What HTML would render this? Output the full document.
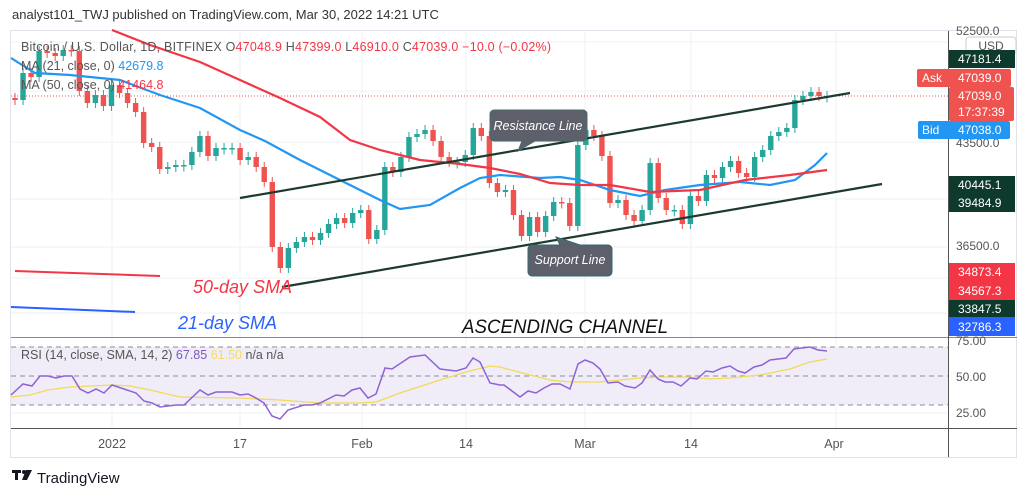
<!DOCTYPE html>
<html><head><meta charset="utf-8"><style>
html,body{margin:0;padding:0;background:#fff;width:1024px;height:496px;overflow:hidden;font-family:"Liberation Sans",sans-serif}
#hdr{position:absolute;left:12px;top:7px;font-size:13px;color:#333}
svg{position:absolute;left:0;top:0}
</style></head><body>
<div id="hdr">analyst101_TWJ published on TradingView.com, Mar 30, 2022 14:21 UTC</div>
<svg id="s" width="1024" height="496" xmlns="http://www.w3.org/2000/svg" font-family="Liberation Sans, sans-serif">
<rect x="10.5" y="30.5" width="1006" height="427" fill="#fff" stroke="#e0e3eb"/>
<g stroke="#eef1f6" stroke-width="1">
<line x1="11" x2="948" y1="42" y2="42"/><line x1="11" x2="948" y1="91" y2="91"/><line x1="11" x2="948" y1="142" y2="142"/><line x1="11" x2="948" y1="199" y2="199"/><line x1="11" x2="948" y1="247" y2="247"/><line x1="11" x2="948" y1="278" y2="278"/><line x1="11" x2="948" y1="313" y2="313"/>
<line x1="112" x2="112" y1="31" y2="428"/><line x1="240" x2="240" y1="31" y2="428"/><line x1="362" x2="362" y1="31" y2="428"/><line x1="466" x2="466" y1="31" y2="428"/><line x1="585" x2="585" y1="31" y2="428"/><line x1="691" x2="691" y1="31" y2="428"/><line x1="836" x2="836" y1="31" y2="428"/>
</g>
<rect x="11" y="347" width="937" height="58" fill="#f0edf9"/>
<g stroke="#8c8c96" stroke-dasharray="5,4" stroke-width="1"><line x1="11" x2="948" y1="347" y2="347"/><line x1="11" x2="948" y1="376" y2="376"/><line x1="11" x2="948" y1="405" y2="405"/></g>
<line x1="11" x2="948" y1="413" y2="413" stroke="#eef1f6"/>
<line x1="11" x2="1017" y1="337.5" y2="337.5" stroke="#888"/>
<line x1="11" x2="1017" y1="428.5" y2="428.5" stroke="#555"/>
<line x1="948.5" x2="948.5" y1="31" y2="457" stroke="#555"/>
<line x1="11" x2="948" y1="96" y2="96" stroke="#ef5350" stroke-dasharray="1,2"/>
<g id="candles"></g>
<polyline fill="none" stroke="#2196f3" stroke-width="2.2" points="11,58 35,73 70,75 120,80 160,95 200,108 240,130 265,141 300,160 320,170 350,185 380,200 400,209 430,205 460,188 480,178 500,175 540,178 560,177 580,180 610,190 640,196 665,190 700,185 740,182 770,185 795,180 815,165 827,153"/>
<polyline fill="none" stroke="#f23645" stroke-width="2.2" points="112,30 150,45 200,62 240,80 280,98 320,117 350,140 380,150 420,160 460,164 490,168 520,174 550,183 580,185 610,185 650,192 700,190 745,180 790,175 827,170"/>
<g stroke="#1e3a2f" stroke-width="2.2"><line x1="240" y1="198" x2="850" y2="93"/><line x1="282" y1="287" x2="882" y2="184"/></g>
<line x1="15" y1="271" x2="160" y2="276" stroke="#f23645" stroke-width="2"/>
<line x1="11" y1="307" x2="135" y2="312" stroke="#2962ff" stroke-width="2"/>
<text x="193" y="293" font-size="18" font-style="italic" fill="#f23645">50-day SMA</text>
<text x="178" y="329" font-size="18" font-style="italic" fill="#2962ff">21-day SMA</text>
<text x="462" y="333" font-size="19" font-style="italic" fill="#111" textLength="206" lengthAdjust="spacingAndGlyphs">ASCENDING CHANNEL</text>
<path d="M494,110 h89 a4,4 0 0 1 4,4 v23 a4,4 0 0 1 -4,4 h-48 l-17,10 l4,-10 h-28 a4,4 0 0 1 -4,-4 v-23 a4,4 0 0 1 4,-4z" fill="#5d606b" stroke="#4a6b6b"/>
<text x="538" y="130" font-size="12.5" font-style="italic" fill="#fff" text-anchor="middle">Resistance Line</text>
<path d="M532,245 h28 l-4,-8 l24,8 h28 a4,4 0 0 1 4,4 v23 a4,4 0 0 1 -4,4 h-76 a4,4 0 0 1 -4,-4 v-23 a4,4 0 0 1 4,-4z" fill="#5d606b" stroke="#2d6b6b"/>
<text x="570" y="264" font-size="12.5" font-style="italic" fill="#fff" text-anchor="middle">Support Line</text>
<g font-size="12.5">
<text x="21" y="51" fill="#555" textLength="530" lengthAdjust="spacing">Bitcoin / U.S. Dollar, 1D, BITFINEX  O<tspan fill="#f23645">47048.9</tspan>  H<tspan fill="#f23645">47399.0</tspan>  L<tspan fill="#f23645">46910.0</tspan>  C<tspan fill="#f23645">47039.0</tspan>  <tspan fill="#f23645">−10.0 (−0.02%)</tspan></text>
<text x="21" y="70" fill="#555">MA (21, close, 0)  <tspan fill="#2196f3">42679.8</tspan></text>
<text x="21" y="89" fill="#555">MA (50, close, 0)  <tspan fill="#f23645">41464.8</tspan></text>
<text x="21" y="359" fill="#555">RSI (14, close, SMA, 14, 2)  <tspan fill="#7e57c2">67.85</tspan>  <tspan fill="#f5dd60">61.50</tspan>  n/a  n/a</text>
</g>
<polyline fill="none" stroke="#f2d95a" stroke-width="1.3" points="11,397 30,395 48,390 70,387 112,385 130,386 150,390 180,397 240,398 280,400 320,403 360,403 376,402 400,393 440,380 466,372 490,366 500,367 530,375 550,380 570,382 600,382 640,378 660,377 690,377 710,379 730,378 760,375 790,369 810,362 827,359"/>
<polyline fill="none" stroke="#8e63d6" stroke-width="1.5" points="11,395 23,384 32,386 40,376 48,376 56,378 64,376 72,376 80,389 88,393 96,389 104,393 112,385 124,389 136,393 144,401 152,403 160,407 176,405 184,405 200,390 208,395 216,392 232,392 240,395 248,394 256,398 264,403 272,416 280,419 288,410 304,405 312,405 320,403 336,395 344,396 352,390 360,388 368,398 376,394 385,368 392,369 410,357 425,355 440,369 456,371 466,368 473,358 480,362 490,383 500,385 504,385 520,397 528,391 536,393 544,388 552,384 560,384 570,389 578,364 585,360 593,363 600,369 608,383 618,382 625,386 635,388 642,383 650,370 658,379 665,382 673,382 681,386 690,378 697,379 706,371 713,372 722,368 730,366 738,371 745,373 754,367 762,365 770,360 778,359 786,358 794,349 810,347 818,350 827,351"/>
<g font-size="12.5" fill="#555" text-anchor="middle"><text x="112" y="448">2022</text><text x="240" y="448">17</text><text x="362" y="448">Feb</text><text x="466" y="448">14</text><text x="585" y="448">Mar</text><text x="691" y="448">14</text><text x="834" y="448">Apr</text></g>
<g font-size="12" fill="#555"><text x="956" y="35">52500.0</text><text x="956" y="147">43500.0</text><text x="956" y="250">36500.0</text><text x="956" y="345">75.00</text><text x="956" y="381">50.00</text><text x="956" y="417">25.00</text></g>
<rect x="966" y="37" width="50" height="17" rx="3" fill="#fff" stroke="#ccc"/><text x="991" y="50" font-size="12" fill="#555" text-anchor="middle">USD</text>
<g font-size="12" fill="#fff">
<rect x="949" y="50" width="66" height="18" fill="#0d3a2c"/><text x="958" y="63">47181.4</text>
<rect x="917" y="69" width="94" height="18" rx="2" fill="#ef5350"/><text x="922" y="82">Ask</text><text x="958" y="82">47039.0</text>
<rect x="949" y="87" width="65" height="34" rx="2" fill="#ef5350"/><text x="958" y="100">47039.0</text><text x="958" y="116">17:37:39</text>
<rect x="918" y="121" width="92" height="18" rx="2" fill="#2196f3"/><text x="922" y="134">Bid</text><text x="958" y="134">47038.0</text>
<rect x="949" y="176" width="66" height="36" fill="#0d3a2c"/><text x="958" y="189">40445.1</text><text x="958" y="207">39484.9</text>
<rect x="949" y="263" width="66" height="37" fill="#f23645"/><text x="958" y="276">34873.4</text><text x="958" y="295">34567.3</text>
<rect x="949" y="300" width="66" height="17" fill="#0d3a2c"/><text x="958" y="313">33847.5</text>
<rect x="949" y="317" width="66" height="19" fill="#2962ff"/><text x="958" y="331">32786.3</text>
</g>
<g fill="#131722"><rect x="12" y="470" width="9" height="3"/><rect x="15" y="470" width="3" height="10"/><circle cx="24" cy="472" r="2"/><path d="M26,470 h6 l-5,10 h-5z"/></g>
<text x="37" y="483" font-size="15" fill="#131722">TradingView</text>
</svg>
<script>
var c=[100,73,77,51,53,56,50,51,91,103,95,106,85,93,103,112,143,147,169,167,165,165,152,136,156,148,148,148,160,157,167,182,247,268,248,242,237,240,233,224,218,223,213,210,239,230,167,172,157,137,134,130,141,157,162,162,155,128,136,183,192,190,215,236,217,232,216,202,203,226,145,130,136,156,203,200,215,221,210,163,198,210,210,224,196,201,175,178,167,161,173,177,157,150,136,132,128,100,96,92,96,96];
var g=document.getElementById('candles'),h='',prev=98;
for(var i=0;i<c.length;i++){var x=15+i*8.04,o=prev,cl=c[i],up=cl<=o,col=up?'#26a69a':'#ef5350';
var t=Math.min(o,cl),b=Math.max(o,cl);if(b-t<1.5){b=t+1.5;}
h+='<line x1="'+x+'" x2="'+x+'" y1="'+(t-5)+'" y2="'+(b+5)+'" stroke="'+col+'" stroke-width="1"/>';
h+='<rect x="'+(x-2.7)+'" y="'+t+'" width="5.4" height="'+(b-t)+'" fill="'+col+'"/>';prev=cl;}
g.innerHTML=h;
</script>
</body></html>
